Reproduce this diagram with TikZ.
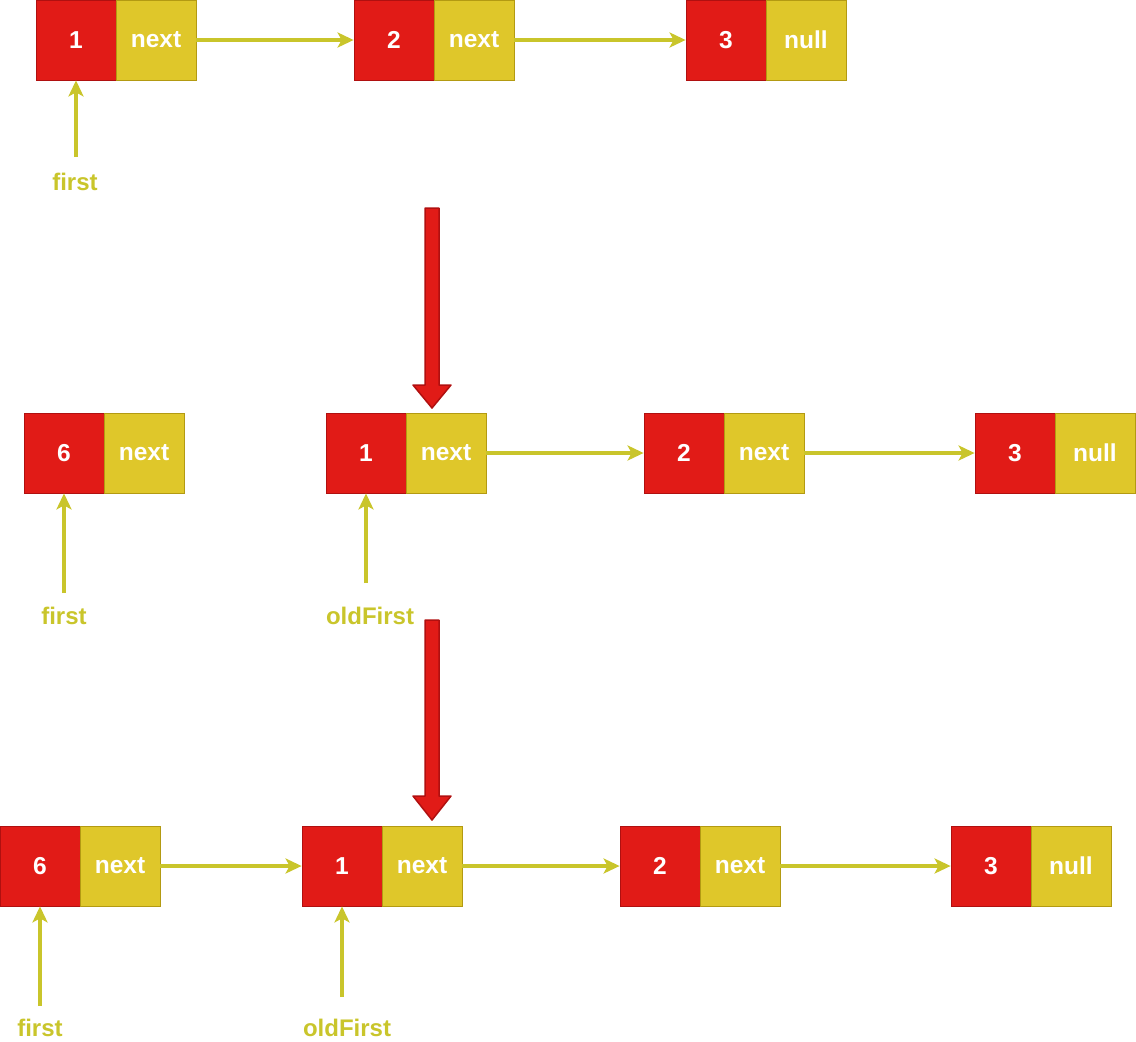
\documentclass[tikz,border=0pt]{standalone}
\usepackage{fontspec}
\setmainfont{Liberation Sans}
\usetikzlibrary{arrows.meta}
\definecolor{redfill}{HTML}{E11B17}
\definecolor{redline}{HTML}{B01010}
\definecolor{yelfill}{HTML}{DFC72A}
\definecolor{yelline}{HTML}{B39A12}
\definecolor{ptr}{HTML}{C9C52B}
\tikzset{
  cellr/.style={rectangle, minimum width=80pt, minimum height=80pt, inner sep=0pt, fill=redfill, draw=redline, line width=0.8pt, text=white, font=\fontsize{24.5}{28}\selectfont\bfseries},
  celly/.style={rectangle, minimum width=80pt, minimum height=80pt, inner sep=0pt, fill=yelfill, draw=yelline, line width=0.8pt, text=white, font=\fontsize{24.5}{28}\selectfont\bfseries},
  ptrlabel/.style={text=ptr, inner sep=0pt, font=\fontsize{24}{28}\selectfont\bfseries},
  link/.style={draw=ptr, line width=3.2pt, -{Stealth[length=16pt,width=15pt,inset=4pt]}},
  bigarrow/.style={fill=redfill, draw=redline, line width=1.5pt, line join=round}
}
\begin{document}
\begin{tikzpicture}[x=1pt,y=-1pt]
\useasboundingbox (0,0) rectangle (1136,1042);
% Row 1
\node[cellr] (a1r) at (76,40) {1};
\node[celly] (a1y) at (156,40) {next};
\node[cellr] (a2r) at (394,40) {2};
\node[celly] (a2y) at (474,40) {next};
\node[cellr] (a3r) at (726,40) {3};
\node[celly] (a3y) at (806,40) {null};
\draw[link] (a1y.east) -- (a2r.west);
\draw[link] (a2y.east) -- (a3r.west);
\coordinate (afs) at (76,157);
\node[ptrlabel] (afl) at (75,182) {first};
\draw[link] (afs) -- (a1r.south);
% big arrow 1
\draw[bigarrow] (425,208) -- (439,208) -- (439,385) -- (451,385) -- (432,408) -- (413,385) -- (425,385) -- cycle;
% Row 2
\node[cellr] (b6r) at (64,453) {6};
\node[celly] (b6y) at (144,453) {next};
\node[cellr] (b1r) at (366,453) {1};
\node[celly] (b1y) at (446,453) {next};
\node[cellr] (b2r) at (684,453) {2};
\node[celly] (b2y) at (764,453) {next};
\node[cellr] (b3r) at (1015,453) {3};
\node[celly] (b3y) at (1095,453) {null};
\draw[link] (b1y.east) -- (b2r.west);
\draw[link] (b2y.east) -- (b3r.west);
\coordinate (bfs) at (64,593);
\node[ptrlabel] (bfl) at (64,616) {first};
\draw[link] (bfs) -- (b6r.south);
\coordinate (bos) at (366,583);
\node[ptrlabel] (bol) at (370,616) {oldFirst};
\draw[link] (bos) -- (b1r.south);
% big arrow 2
\draw[bigarrow] (425,620) -- (439,620) -- (439,796) -- (451,796) -- (432,820) -- (413,796) -- (425,796) -- cycle;
% Row 3
\node[cellr] (c6r) at (40,866) {6};
\node[celly] (c6y) at (120,866) {next};
\node[cellr] (c1r) at (342,866) {1};
\node[celly] (c1y) at (422,866) {next};
\node[cellr] (c2r) at (660,866) {2};
\node[celly] (c2y) at (740,866) {next};
\node[cellr] (c3r) at (991,866) {3};
\node[celly] (c3y) at (1071,866) {null};
\draw[link] (c6y.east) -- (c1r.west);
\draw[link] (c1y.east) -- (c2r.west);
\draw[link] (c2y.east) -- (c3r.west);
\coordinate (cfs) at (40,1006);
\node[ptrlabel] (cfl) at (40,1028) {first};
\draw[link] (cfs) -- (c6r.south);
\coordinate (cos) at (342,997);
\node[ptrlabel] (col) at (347,1028) {oldFirst};
\draw[link] (cos) -- (c1r.south);
\end{tikzpicture}
\end{document}
